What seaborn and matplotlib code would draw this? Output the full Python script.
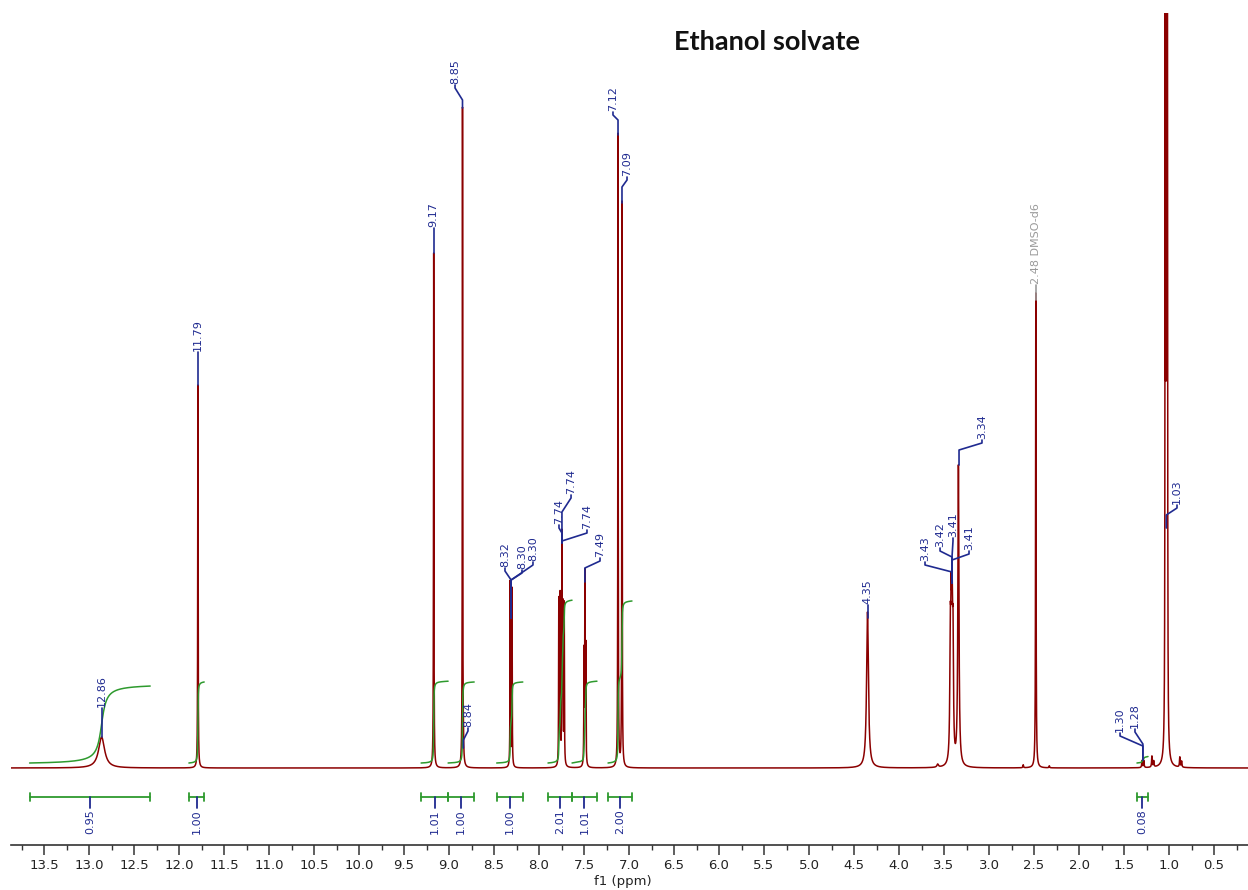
import numpy as np
import pandas as pd
import seaborn as sns
import matplotlib
matplotlib.use('Agg')
import matplotlib.pyplot as plt

# Picos del espectro 1H (ppm, altura sobre la linea base, semi-anchura en ppm)
peak_ppm = [12.86, 11.79, 9.17, 8.85, 8.84, 8.32, 8.30,
            7.78, 7.765, 7.745, 7.735, 7.72, 7.50, 7.49, 7.48,
            7.122, 7.078, 4.35, 3.43, 3.42, 3.41, 3.40, 3.34, 3.57,
            2.62, 2.48, 2.33, 1.30, 1.28, 1.19, 1.17,
            1.042, 1.03, 1.018, 0.88, 0.86]
peak_height = [31, 383, 515, 660, 10, 185, 178,
               165, 168, 225, 150, 160, 110, 186, 115,
               633, 565, 156, 115, 122, 122, 110, 300, 3,
               3, 475, 2, 7, 7, 11, 6,
               900, 1700, 900, 10, 6]
peak_width = [0.04, 0.0025, 0.0025, 0.0025, 0.003, 0.0025, 0.0025,
              0.0025, 0.0025, 0.0025, 0.0025, 0.0025, 0.0025, 0.0025, 0.0025,
              0.0025, 0.0025, 0.012, 0.006, 0.006, 0.006, 0.006, 0.007, 0.01,
              0.004, 0.003, 0.004, 0.004, 0.004, 0.004, 0.004,
              0.0025, 0.0025, 0.0025, 0.004, 0.004]

# Integrales: rango (ppm inicio, ppm fin) y valor
int_start = [13.66, 11.89, 9.31, 9.01, 8.47, 7.90, 7.633, 7.233, 1.356]
int_end = [12.32, 11.72, 9.01, 8.72, 8.18, 7.633, 7.356, 6.967, 1.233]
int_value = ['0.95', '1.00', '1.01', '1.00', '1.00', '2.01', '1.01', '2.00', '0.08']

# Etiquetas de picos: texto, pico (ppm), posicion de la etiqueta (ppm)
label_text = ['12.86', '11.79', '9.17', '8.85', '8.84', '8.32', '8.30', '8.30',
              '7.74', '7.74', '7.74', '7.49', '7.12', '7.09', '4.35',
              '3.43', '3.42', '3.41', '3.41', '3.34', '2.48 DMSO-d6',
              '1.30', '1.28', '1.03']
label_peak = [12.86, 11.79, 9.17, 8.85, 8.84, 8.31, 8.31, 8.31,
              7.745, 7.745, 7.745, 7.49, 7.122, 7.078, 4.35,
              3.411, 3.411, 3.411, 3.411, 3.333, 2.48,
              1.29, 1.29, 1.03]
label_pos = [12.86, 11.79, 9.17, 8.933, 8.789, 8.378, 8.189, 8.067,
             7.778, 7.644, 7.467, 7.322, 7.178, 7.022, 4.35,
             3.711, 3.544, 3.40, 3.222, 3.078, 2.48,
             1.544, 1.378, 0.911]
# alturas (en px sobre la base) de inicio de linea, codo y base del texto
label_start = [31, 383, 515, 660, 20, 150, 150, 150,
               225, 225, 225, 186, 633, 565, 150,
               185, 185, 185, 185, 303, 468,
               8, 8, 240]
label_knee = [None, None, None, 668, 28, 188, 188, 188,
              235, 256, 227, 200, 648, 581, None,
              196, 211, 211, 208, 318, None,
              22, 24, 253]
label_bottom = [60, 416, 540, 683, 40, 200, 198, 206,
                243, 273, 238, 210, 656, 591, 163,
                206, 220, 230, 217, 328, 483,
                35, 39, 263]

ppm = np.linspace(14.0, 0.1, 69501)
spec = np.zeros_like(ppm)
for c, h, w in zip(peak_ppm, peak_height, peak_width):
    spec += h / (1 + ((ppm - c) / w) ** 2)
df = pd.DataFrame({'ppm': ppm, 'intensidad': spec})

sns.set_style('white')
plt.rcParams['font.family'] = ['DejaVu Sans']

fig = plt.figure(figsize=(12.48, 8.9), dpi=100)
ax = fig.add_axes([11 / 1248, 45 / 890, 1237 / 1248, 832 / 890])

red = '#8b0000'
green = '#2e9a2e'
navy = '#1f2a90'

sns.lineplot(data=df, x='ppm', y='intensidad', ax=ax, color=red,
             linewidth=1.1, estimator=None, sort=False)

# Curvas de integracion
for a, b, v in zip(int_start, int_end, int_value):
    m = (ppm <= a) & (ppm >= b)
    cum = np.cumsum(spec[m])
    cum = cum / cum[-1]
    sns.lineplot(x=ppm[m], y=5 + cum * float(v) * 81, ax=ax, color=green,
                 linewidth=1.1, estimator=None, sort=False)

# Barras de integracion
for a, b, v in zip(int_start, int_end, int_value):
    ax.plot([a, b], [-29, -29], color=green, lw=1.3)
    ax.plot([a, a], [-25, -33], color=green, lw=1.3)
    ax.plot([b, b], [-25, -33], color=green, lw=1.3)
    c = (a + b) / 2
    ax.plot([c, c], [-29, -40], color=navy, lw=1.3)
    ax.text(c, -41, v, rotation=90, ha='center', va='top', fontsize=8, color=navy)

# Etiquetas de picos
for t, p, lp, s, k, bt in zip(label_text, label_peak, label_pos,
                              label_start, label_knee, label_bottom):
    col = '#9a9a9a' if 'DMSO' in t else navy
    if k is None:
        xs, ys = [p, p], [s, bt]
    else:
        xs, ys = [p, p, lp, lp], [s, k, bt - 3, bt]
    ax.plot(xs, ys, color=col, lw=1.2)
    ax.text(lp, bt + 1, t, rotation=90, ha='center', va='bottom',
            fontsize=8, color=col)

ax.set_xlim(13.5 + 33 / 90, 13.5 - 1204 / 90)
ax.set_ylim(-77, 755)

ticks = np.arange(0.5, 14.0, 0.5)
ax.set_xticks(ticks)
ax.set_xticklabels([f'{t:.1f}' for t in ticks])
ax.set_xticks(np.arange(0.25, 14.0, 0.5), minor=True)
ax.tick_params(axis='x', which='major', length=7, width=1.1, direction='out',
               pad=3, labelsize=9.5, labelcolor='#222222', color='#333333', bottom=True)
ax.tick_params(axis='x', which='minor', length=3.5, width=1.0, direction='out',
               color='#333333', bottom=True)
ax.set_yticks([])
ax.set_xlabel('')
ax.set_ylabel('')
for side in ['left', 'right', 'top']:
    ax.spines[side].set_visible(False)
ax.spines['bottom'].set_color('#333333')
ax.spines['bottom'].set_linewidth(1.2)

fig.text(623 / 1248, 1 - 881 / 890, 'f1 (ppm)', ha='center', va='center',
         fontsize=9.5, color='#222222')
fig.text(767 / 1248, 1 - 42 / 890, 'Ethanol solvate', ha='center', va='center',
         fontsize=19.5, fontweight='bold', family=['Lato', 'DejaVu Sans'],
         color='#111111')

fig.savefig('out.png', dpi=100)
